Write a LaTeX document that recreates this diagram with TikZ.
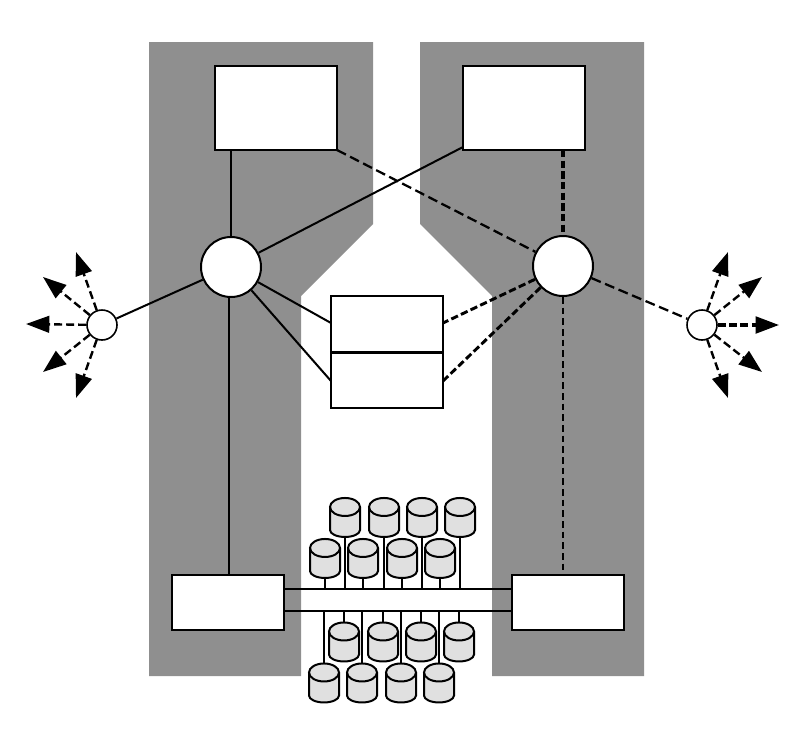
\documentclass[tikz,border=0pt]{standalone}
\usetikzlibrary{arrows.meta}
\definecolor{band}{HTML}{8F8F8F}
\definecolor{diskfill}{HTML}{E0E0E0}
\tikzset{
  x=0.75pt,y=-0.75pt,
  boxnode/.style={draw=black,fill=white,line width=1.5pt,inner sep=0pt,minimum width=#1*0.75pt},
  hub/.style={circle,draw=black,fill=white,line width=1.5pt,inner sep=0pt,minimum size=60*0.75pt},
  leaf/.style={circle,draw=black,fill=white,line width=1.2pt,inner sep=0pt,minimum size=30*0.75pt},
  solidlink/.style={line width=1.5pt},
  dashlink/.style={line width=1.7pt,dash pattern=on 7.5pt off 3.5pt},
  thindash/.style={line width=1.1pt,dash pattern=on 5pt off 3pt},
  thickdash/.style={line width=2.2pt,dash pattern=on 5.5pt off 2.5pt},
  ray/.style={line width=1.8pt,dash pattern=on 6pt off 3pt,-{Triangle[length=17.5pt,width=12.5pt]}},
  thickray/.style={line width=2.3pt,dash pattern=on 6pt off 2.5pt,-{Triangle[length=17.5pt,width=12.5pt]}},
  thinstub/.style={line width=0.9pt},
  stub/.style={line width=1.5pt},
}
\newcommand{\diskat}[3]{%
  \node[inner sep=0pt,minimum width=22.5pt,minimum height=29.25pt] (#1) at (#2,#3) {};
  \fill[diskfill] ([xshift=-11.25pt,yshift=7.9pt]#1.center)
     arc[start angle=180,end angle=0,x radius=11.25pt,y radius=6.75pt]
     -- ([xshift=11.25pt,yshift=-9.4pt]#1.center)
     arc[start angle=0,end angle=-180,x radius=11.25pt,y radius=5.2pt] -- cycle;
  \draw[line width=1.5pt] ([xshift=-11.25pt,yshift=7.9pt]#1.center) -- ([xshift=-11.25pt,yshift=-9.4pt]#1.center)
     arc[start angle=180,end angle=360,x radius=11.25pt,y radius=5.2pt]
     -- ([xshift=11.25pt,yshift=7.9pt]#1.center);
  \draw[line width=1.5pt] ([yshift=7.9pt]#1.center) ellipse[x radius=11.25pt,y radius=6.75pt];
}
\begin{document}
\begin{tikzpicture}
\useasboundingbox (0,0) rectangle (804,732);
\fill[band] (149,42) -- (373,42) -- (373,224) -- (301,296) -- (301,676) -- (149,676) -- cycle;
\fill[band] (420,42) -- (644,42) -- (644,676) -- (492,676) -- (492,296) -- (420,224) -- cycle;
% free ends
\coordinate (tlb) at (231,150);
\coordinate (tlc) at (337,150);
\coordinate (trc) at (463,147);
\coordinate (trb) at (563,150);
\coordinate (m1l) at (331,323);
\coordinate (m2l) at (331,381);
\coordinate (m1r) at (443,323);
\coordinate (m2r) at (443,381);
\coordinate (bla) at (229,575);
\coordinate (bra) at (563,575);
\coordinate (bn1) at (284,589);
\coordinate (bn2) at (512,589);
\coordinate (bs1) at (284,611);
\coordinate (bs2) at (512,611);
\coordinate (la1) at (26,324);
\coordinate (la2) at (43,277);
\coordinate (la3) at (76,252);
\coordinate (la4) at (43,372);
\coordinate (la5) at (76,398);
\coordinate (ra1) at (779,325);
\coordinate (ra2) at (762,277);
\coordinate (ra3) at (728,252);
\coordinate (ra4) at (762,372);
\coordinate (ra5) at (728,398);
% nodes
\node[hub] (hl) at (231,267) {};
\node[hub] (hr) at (563,266) {};
\node[leaf] (ll) at (102,325) {};
\node[leaf] (lr) at (702,325) {};
\node[boxnode=122,minimum height=84*0.75pt] (tl) at (276,108) {};
\node[boxnode=122,minimum height=84*0.75pt] (tr) at (524,108) {};
\node[boxnode=112,minimum height=56*0.75pt] (m1) at (387,324) {};
\node[boxnode=112,minimum height=55*0.75pt] (m2) at (387,380) {};
\node[boxnode=112,minimum height=55*0.75pt] (bl) at (228,602.5) {};
\node[boxnode=112,minimum height=55*0.75pt] (br) at (568,602.5) {};
% links
\draw[solidlink] (tlb) -- (hl);
\draw[solidlink] (trc) -- (hl);
\draw[dashlink] (tlc) -- (hr);
\draw[thickdash,line width=2.7pt] (trb) -- (hr);
\draw[solidlink] (hl) -- (ll);
\draw[dashlink] (hr) -- (lr);
\draw[solidlink] (hl) -- (m1l);
\draw[solidlink] (hl) -- (m2l);
\draw[thickdash] (hr) -- (m1r);
\draw[thickdash] (hr) -- (m2r);
\draw[solidlink] (bla |- hl.south) -- (bla);
\draw[thindash] (hr) -- (bra);
\foreach \t in {la1,la2,la3,la4,la5} \draw[ray] (ll) -- (\t);
\draw[thickray] (lr) -- (ra1);
\foreach \t in {ra2,ra3,ra4,ra5} \draw[ray] (lr) -- (\t);
% bus
\draw[solidlink] (bn1) -- (bn2);
\draw[solidlink] (bs1) -- (bs2);
% disks
\diskat{a1}{345}{517.5}
\diskat{a2}{384}{517.5}
\diskat{a3}{422}{517.5}
\diskat{a4}{460}{517.5}
\diskat{b1}{325}{558.5}
\diskat{b2}{363}{558.5}
\diskat{b3}{402}{558.5}
\diskat{b4}{440}{558.5}
\diskat{c1}{344}{642}
\diskat{c2}{383}{642}
\diskat{c3}{421}{642}
\diskat{c4}{459}{642}
\diskat{e1}{324}{683}
\diskat{e2}{362}{683}
\diskat{e3}{401}{683}
\diskat{e4}{439}{683}
\foreach \d in {a1,a2,a3,a4} \draw[thinstub] (\d.south) -- (\d.south |- bn1);
\foreach \d in {b1,b2,b3,b4} \draw[stub] (\d.south) -- (\d.south |- bn1);
\foreach \d in {c1,c2,c3,c4} \draw[thinstub] (\d.north) -- (\d.north |- bs1);
\foreach \d in {e1,e2,e3,e4} \draw[stub] (\d.north) -- (\d.north |- bs1);
\end{tikzpicture}
\end{document}
